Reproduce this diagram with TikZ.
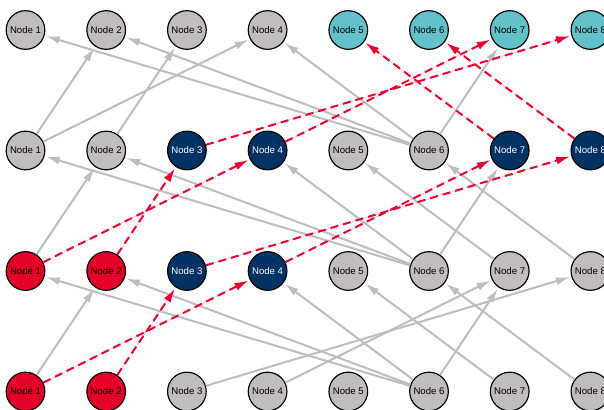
\documentclass[tikz,border=0pt]{standalone}
\usepackage{fontspec}
\setmainfont{Liberation Sans}
\usetikzlibrary{arrows.meta}

\definecolor{nodegrey}{RGB}{193,189,191}
\definecolor{nodecyan}{RGB}{99,193,202}
\definecolor{nodeblue}{RGB}{0,50,100}
\definecolor{nodered}{RGB}{229,0,42}
\definecolor{edgegrey}{RGB}{190,188,190}
\definecolor{edgered}{RGB}{234,0,48}

\begin{document}
\begin{tikzpicture}[x=0.3mm,y=-0.3mm]

\tikzstyle{mynode}=[circle,
draw=black,
line width=0.35mm,
inner sep=0pt,
minimum size=11.6mm,
font=\fontsize{8.2}{9}\selectfont
]
\tikzstyle{greynode}=[mynode, fill=nodegrey]
\tikzstyle{cyannode}=[mynode, fill=nodecyan]
\tikzstyle{bluenode}=[mynode, fill=nodeblue, text=white]
\tikzstyle{rednode}=[mynode, fill=nodered]
\tikzstyle{myarrow}=[-{Latex[length=4.2mm,width=2.4mm]}, draw=edgegrey, line width=0.6mm, shorten >=0.4mm]
\tikzstyle{redarrow}=[-{Latex[length=4.2mm,width=2.4mm]}, draw=edgered, fill=edgered, line width=0.6mm, shorten >=0.4mm, dash pattern=on 2.4mm off 1.5mm]

\useasboundingbox (0,0) rectangle (604,409);

% rows a (top) to d (bottom)
\foreach \i/\st in {1/greynode,2/greynode,3/greynode,4/greynode,5/cyannode,6/cyannode,7/cyannode,8/cyannode}
  \node[\st] (a\i) at ({25.5+80.7*(\i-1)}, 30) {Node \i};
\foreach \i/\st in {1/greynode,2/greynode,3/bluenode,4/bluenode,5/greynode,6/greynode,7/bluenode,8/bluenode}
  \node[\st] (b\i) at ({25.5+80.7*(\i-1)}, 150.5) {Node \i};
\foreach \i/\st in {1/rednode,2/rednode,3/bluenode,4/bluenode,5/greynode,6/greynode,7/greynode,8/greynode}
  \node[\st] (c\i) at ({25.5+80.7*(\i-1)}, 271) {Node \i};
\foreach \i/\st in {1/rednode,2/rednode,3/greynode,4/greynode,5/greynode,6/greynode,7/greynode,8/greynode}
  \node[\st] (d\i) at ({25.5+80.7*(\i-1)}, 391.5) {Node \i};

% grey links
\foreach \s/\t in {b1/a2,b1/a4,b2/a3,b6/a1,b6/a2,b6/a4,b6/a7,
                   c1/b2,c6/b1,c6/b2,c6/b4,c6/b7,c7/b5,c8/b6,
                   d1/c2,d6/c1,d6/c2,d6/c4,d6/c7,d7/c5,d8/c6,d3/c8,d4/c7}
  \draw[myarrow] (\s) -- (\t);

% red dashed links
\foreach \s/\t in {b3/a8,b4/a7,b7/a5,b8/a6,
                   c1/b4,c2/b3,c3/b8,c4/b7,
                   d1/c4,d2/c3}
  \draw[redarrow] (\s) -- (\t);

\end{tikzpicture}
\end{document}
